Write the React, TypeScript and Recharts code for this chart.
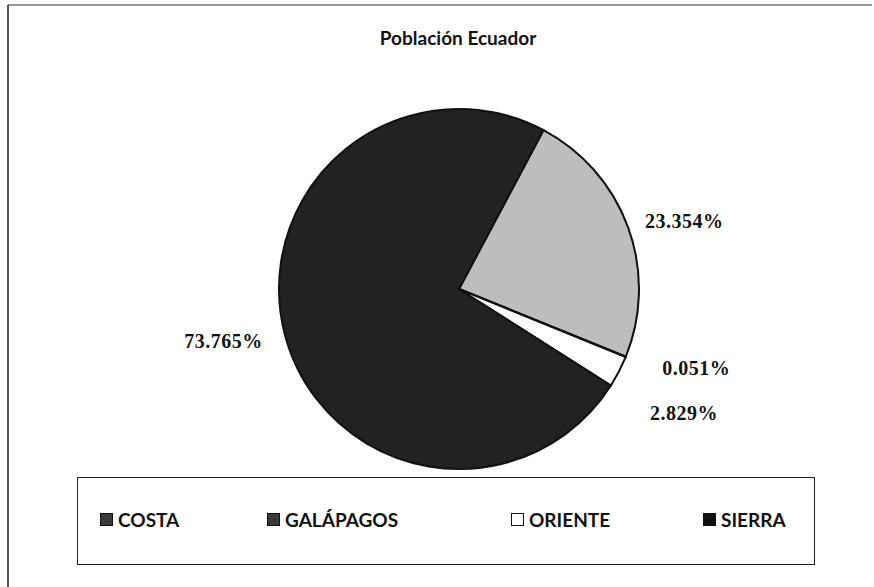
import React from 'react';
import { PieChart, Pie, Cell, Legend, Customized } from 'recharts';

const regions = ['COSTA', 'GALÁPAGOS', 'ORIENTE', 'SIERRA'];
const shares = [23.354, 0.051, 2.829, 73.765];
const labels = ['23.354%', '0.051%', '2.829%', '73.765%'];
const title = 'Población Ecuador';

const data = regions.map((name, i) => ({ name, value: shares[i], label: labels[i] }));

const fills = ['#bdbdbd', '#9a9a9a', '#ffffff', '#222222'];
const iconFills = ['#3a3a3a', '#3a3a3a', '#ffffff', '#111111'];
const labelExtra = [18, 38, 48, 23];
const labelAngle = [0, 0.9, -5.7, 0];
const labelAnchor = ['start', 'start', 'start', 'end'];
const legendLeft = [22, 189, 433, 625];

const RAD = Math.PI / 180;

const renderLabel = (props: any) => {
  const { cx, cy, midAngle, outerRadius, index } = props;
  const r = outerRadius + labelExtra[index];
  const a = (midAngle + labelAngle[index]) * RAD;
  const x = cx + r * Math.cos(a);
  const y = cy - r * Math.sin(a);
  return (
    <text
      x={x}
      y={y}
      textAnchor={labelAnchor[index] as any}
      dominantBaseline="central"
      fontFamily="'Liberation Serif', 'DejaVu Serif', serif"
      fontWeight={700}
      fontSize={20}
      letterSpacing={0.5}
      fill="#111"
    >
      {data[index].label}
    </text>
  );
};

const renderLegend = () => (
  <div
    style={{
      position: 'relative',
      width: 738,
      height: 88,
      border: '1.5px solid #222',
      boxSizing: 'border-box',
      fontFamily: "Lato, 'Open Sans', sans-serif",
      fontWeight: 700,
      fontSize: 19,
      color: '#111',
    }}
  >
    {data.map((d, i) => (
      <div
        key={d.name}
        style={{
          position: 'absolute',
          left: legendLeft[i],
          top: 30,
          display: 'flex',
          alignItems: 'center',
          whiteSpace: 'nowrap',
        }}
      >
        <span
          style={{
            display: 'inline-block',
            width: 11,
            height: 11,
            background: iconFills[i],
            border: '1.5px solid #111',
            marginRight: 5,
          }}
        />
        <span>{d.name}</span>
      </div>
    ))}
  </div>
);

const Frame = () => (
  <g>
    <line x1={8} y1={5} x2={872} y2={5} stroke="#333" strokeWidth={1.2} />
    <line x1={8} y1={5} x2={8} y2={587} stroke="#222" strokeWidth={1.5} />
    <text
      x={458}
      y={37}
      textAnchor="middle"
      dominantBaseline="central"
      fontFamily="Lato, 'Open Sans', sans-serif"
      fontWeight={700}
      fontSize={19}
      fill="#111"
    >
      {title}
    </text>
  </g>
);

export default function App() {
  return (
    <div style={{ position: 'fixed', left: 0, top: 0, width: 874, height: 587, background: '#fff' }}>
      <PieChart width={874} height={587}>
        <Customized component={Frame} />
        <Pie
          data={data}
          dataKey="value"
          nameKey="name"
          cx={454}
          cy={284}
          outerRadius={180}
          startAngle={62}
          endAngle={-298}
          stroke="#111"
          strokeWidth={2}
          label={renderLabel}
          labelLine={false}
          isAnimationActive={false}
        >
          {data.map((d, i) => (
            <Cell key={d.name} fill={fills[i]} />
          ))}
        </Pie>
        <Legend
          content={renderLegend}
          wrapperStyle={{ position: 'absolute', left: 77, top: 477, width: 738, height: 88, bottom: 'auto' }}
        />
      </PieChart>
    </div>
  );
}
